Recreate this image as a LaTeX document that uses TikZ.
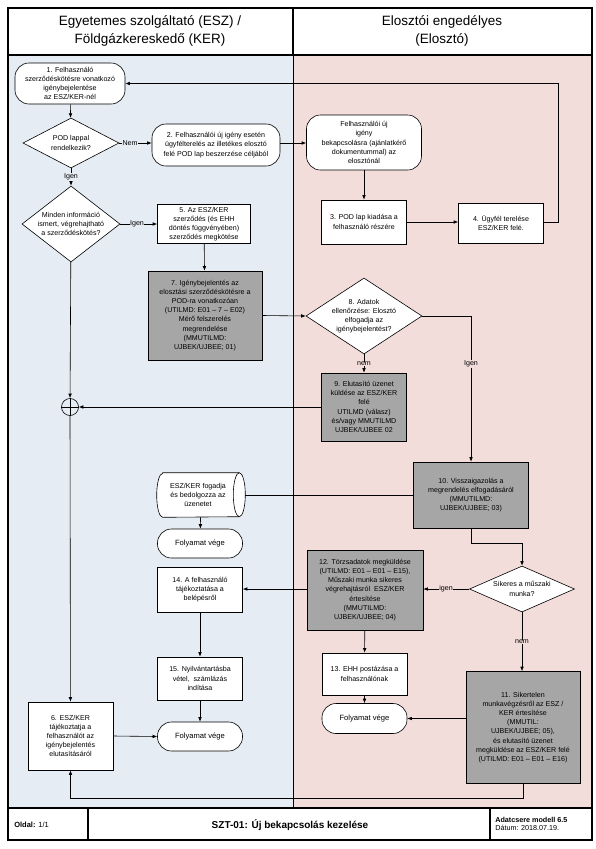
\documentclass[tikz,border=0pt]{standalone}
\usepackage{fontspec}
\setmainfont{Liberation Sans}
\usetikzlibrary{shapes.geometric,arrows.meta}
\definecolor{laneblue}{RGB}{230,236,243}
\definecolor{lanepink}{RGB}{242,221,219}
\definecolor{boxgray}{RGB}{166,166,166}
\newcommand{\nf}{\fontsize{7.1}{9.2}\selectfont}
\begin{document}
\begin{tikzpicture}[x=1pt,y=-1pt,
  line width=0.6pt,
  every node/.style={font=\nf, align=center, inner sep=1pt},
  proc/.style={draw, rectangle, fill=white, minimum width=#1},
  gproc/.style={draw, rectangle, fill=boxgray, minimum width=#1},
  term/.style={draw, rectangle, rounded corners=14pt, fill=white, minimum width=#1},
  dec/.style={draw, diamond, fill=white, inner sep=0pt},
  arr/.style={-{Latex[length=4.5pt,width=3.6pt]}},
  lbl/.style={inner sep=0.5pt}
]
\useasboundingbox (0,0) rectangle (596,849);
% lanes
\fill[laneblue] (8,55) rectangle (293,808);
\fill[lanepink] (293,55) rectangle (592,808);
\draw (293,55) -- (293,808);
% header
\draw[line width=1.6pt] (8,8) rectangle (592,840);
\draw[line width=1.6pt] (8,55) -- (592,55);
\draw[line width=1.2pt] (293,8) -- (293,55);
\node[font=\fontsize{13.5}{18}\selectfont] (h1) at (150,31) {Egyetemes szolgáltató (ESZ) /\\Földgázkereskedő (KER)};
\node[font=\fontsize{13.5}{18}\selectfont] (h2) at (442,31) {Elosztói engedélyes\\(Elosztó)};
% footer
\draw[line width=1.6pt] (8,808) -- (592,808);
\draw[line width=1.2pt] (88,808) -- (88,840);
\draw[line width=1.2pt] (490,808) -- (490,840);
\node[anchor=west, font=\fontsize{7.5}{9}\selectfont] (f1) at (13,825) {\textbf{Oldal:} 1/1};
\node[font=\fontsize{10}{12}\selectfont\bfseries] (f2) at (290,825) {SZT-01: Új bekapcsolás kezelése};
\node[anchor=west, align=left, font=\fontsize{7.2}{8.6}\selectfont] (f3) at (494,824) {\textbf{Adatcsere modell 6.5}\\Dátum: 2018.07.19.};

% nodes
\node[term=110pt, minimum height=41pt] (n1) at (70,83.5) {1. Felhasználó\\szerződéskötésre vonatkozó\\igénybejelentése\\az ESZ/KER-nél};
\node[dec, minimum width=96pt, minimum height=50pt] (pod) at (71,143) {};
\node (podt) at (pod) {POD lappal\\rendelkezik?};
\node[term=128pt, minimum height=42pt] (n2) at (216,145) {2. Felhasználói új igény esetén\\ügyfélterelés az illetékes elosztó\\felé POD lap beszerzése céljából};
\node[term=115pt, minimum height=55pt] (nreq) at (364,142.5) {Felhasználói új\\igény\\bekapcsolásra (ajánlatkérő\\dokumentummal) az\\elosztónál};
\node[proc=85pt, minimum height=44pt] (n3) at (364,222) {3. POD lap kiadása a\\felhasználó részére};
\node[proc=85pt, minimum height=40pt] (n4) at (501,223) {4. Ügyfél terelése\\ESZ/KER felé.};
\node[dec, minimum width=98pt, minimum height=76pt] (d2) at (71,224) {};
\node (d2t) at (d2) {Minden információ\\ismert, végrehajtható\\a szerződéskötés?};
\node[proc=93pt, minimum height=39pt] (n5) at (204,224) {5. Az ESZ/KER\\szerződés (és EHH\\döntés függvényében)\\szerződés megkötése};
\node[gproc=114pt, minimum height=89pt] (n7) at (205,315.5) {7. Igénybejelentés az\\elosztási szerződéskötésre a\\POD-ra vonatkozóan\\(UTILMD: E01 – 7 – E02)\\Mérő felszerelés\\megrendelése\\(MMUTILMD:\\UJBEK/UJBEE; 01)};
\node[dec, minimum width=116pt, minimum height=76pt] (d8) at (364,316) {};
\node (d8t) at (d8) {8. Adatok\\ellenőrzése: Elosztó\\elfogadja az\\igénybejelentést?};
\node[gproc=85pt, minimum height=68pt] (n9) at (364,407) {9. Elutasító üzenet\\küldése az ESZ/KER\\felé\\UTILMD (válasz)\\és/vagy MMUTILMD\\UJBEK/UJBEE 02};
\node[gproc=115pt, minimum height=66pt] (n10) at (471,495) {10. Visszaigazolás a\\megrendelés elfogadásáról\\(MMUTILMD:\\UJBEK/UJBEE; 03)};
\node[draw, circle, minimum size=17pt, inner sep=0pt] (j) at (70,407) {};
% storage cylinder
\node[rectangle, minimum width=88pt, minimum height=44pt, inner sep=0pt] (cyl) at (201,495) {};
\draw[fill=white] ([xshift=6pt]cyl.north west) -- ([xshift=-6pt]cyl.north east)
  arc[start angle=90, end angle=-90, x radius=6pt, y radius=22pt]
  -- ([xshift=6pt]cyl.south west)
  arc[start angle=270, end angle=90, x radius=6pt, y radius=22pt] -- cycle;
\draw ([xshift=-6pt]cyl.north east) arc[start angle=90, end angle=270, x radius=6pt, y radius=22pt];
\node (cylt) at (198,495) {ESZ/KER fogadja\\és bedolgozza az\\üzenetet};
\node[term=85pt, minimum height=29pt] (fv1) at (200,543.5) {\fontsize{7.6}{9}\selectfont Folyamat vége};
\node[dec, minimum width=105pt, minimum height=46pt] (dS) at (522,589) {};
\node (dSt) at (dS) {Sikeres a műszaki\\munka?};
\node[gproc=116pt, minimum height=80pt] (n12) at (365,590) {12. Törzsadatok megküldése\\(UTILMD: E01 – E01 – E15),\\Műszaki munka sikeres\\végrehajtásról~ ESZ/KER\\értesítése\\(MMUTILMD:\\UJBEK/UJBEE; 04)};
\node[proc=85pt, minimum height=45pt] (n14) at (200,589.5) {14. A felhasználó\\tájékoztatása a\\belépésről};
\node[proc=85pt, minimum height=43pt] (n15) at (200,678.5) {15. Nyilvántartásba\\vétel,~ számlázás\\indítása};
\node[term=85pt, minimum height=29pt] (fv2) at (200,736.5) {\fontsize{7.6}{9}\selectfont Folyamat vége};
\node[proc=85pt, minimum height=68pt] (n6) at (70.5,736) {6. ESZ/KER\\tájékoztatja a\\felhasználót az\\igénybejelentés\\elutasításáról};
\node[proc=85pt, minimum height=42pt] (n13) at (364.5,674) {13. EHH postázása a\\felhasználónak};
\node[term=85pt, minimum height=30pt] (fv3) at (364.5,718.5) {\fontsize{7.6}{9}\selectfont Folyamat vége};
\node[gproc=114pt, minimum height=112pt] (n11) at (523,727.5) {11. Sikertelen\\munkavégzésről az ESZ /\\KER értesítése\\(MMUTIL:\\UJBEK/UJBEE; 05),\\és elutasító üzenet\\megküldése az ESZ/KER felé\\(UTILMD: E01 – E01 – E16)};

\coordinate (c1) at (558,83.5);
\coordinate (c2) at (471,316);
\coordinate (c3) at (471,543);
\coordinate (c4) at (522,543);
\coordinate (c5) at (523,798);
\coordinate (c6) at (70.5,798);

% connectors
\draw[arr] (n1) -- (pod);
\draw[arr] (pod.east) -- (pod.east -| n2.west);
\draw[arr] (n2.east |- pod.east) -- (nreq.west |- pod.east);
\draw[arr] (nreq) -- (n3);
\draw[arr] (n3.east) -- (n3.east -| n4.west);
\draw[arr] (n4.east |- n3.east) -| (c1) -- (n1.east);
\draw[arr] (pod) -- (d2);
\draw[arr] (d2.east) -- (n5.west);
\draw[arr] (n5) -- (n7);
\draw[arr] (n7.east) -- (d8.west);
\draw[arr] (d8) -- (n9);
\draw[arr] (d8.east) -- (c2) -- (n10.north);
\draw[arr] (d2) -- (j);
\draw[arr] (n9.west) -- (j.east);
\draw (j.north) -- (j.south);
\draw (j.west) -- (j.east);
\draw[arr] (j) -- (n6);
\draw (n10.west) -- (cyl.east);
\draw[arr] (cyl) -- (fv1);
\draw[arr] (n10.south) -- (c3) -- (c4) -- (dS.north);
\draw[arr] (dS.west) -- (n12.east |- dS.west);
\draw[arr] (n12.west |- dS.west) -- (n14.east |- dS.west);
\draw[arr] (n14) -- (n15);
\draw[arr] (n15) -- (fv2);
\draw[arr] (n6.east) -- (fv2.west);
\draw[arr] (n12) -- (n13);
\draw[arr] (n13) -- (fv3);
\draw[arr] (dS.south) -- (dS.south |- n11.north);
\draw[arr] (n11.west |- fv3.east) -- (fv3.east);
\draw[arr] (n11.south) -- (c5) -- (c6) -- (n6.south);

% labels
\node[lbl, fill=laneblue] (l1) at (130,143) {Nem};
\node[lbl, fill=laneblue] (l2) at (71,177) {Igen};
\node[lbl, fill=laneblue] (l3) at (137,224) {Igen};
\node[lbl, fill=lanepink] (l4) at (364,364) {nem};
\node[lbl, fill=lanepink] (l5) at (471,364) {Igen};
\node[lbl, fill=lanepink] (l6) at (446,589) {igen};
\node[lbl, fill=lanepink] (l7) at (522,642) {nem};
\end{tikzpicture}
\end{document}
